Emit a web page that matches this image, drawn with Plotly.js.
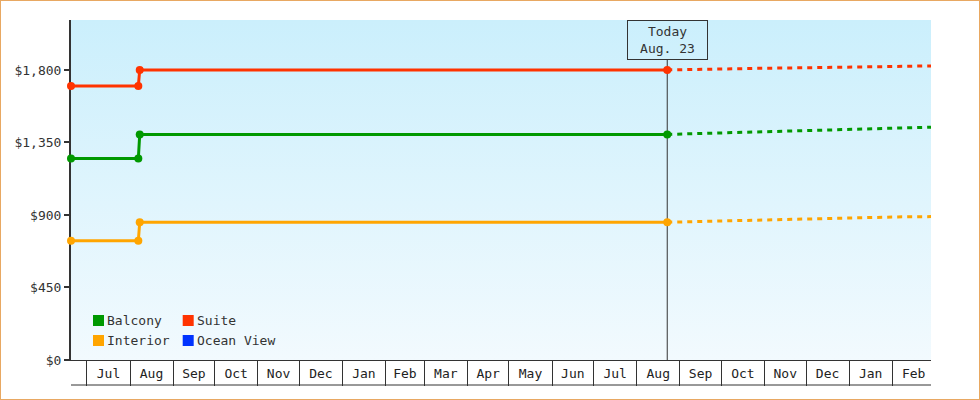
<!DOCTYPE html>
<html>
<head>
<meta charset="utf-8">
<script src="https://cdn.plot.ly/plotly-3.0.1.min.js"></script>
<style>
  html, body { margin: 0; padding: 0; background: #fff; }
  #wrap { position: relative; width: 980px; height: 400px; }
  #chart { width: 980px; height: 400px; }
  #frame { position: absolute; left: 0; top: 0; width: 980px; height: 400px;
           box-sizing: border-box; border: 1px solid #e8a862; pointer-events: none; }
</style>
</head>
<body>
<div id="wrap"><div id="chart"></div><div id="frame"></div></div>
<script>
// room categories, in legend order
const roomTypes = ['Balcony', 'Suite', 'Interior', 'Ocean View'];

// recorded prices (solid, with markers)
const historyDates = ['2022-06-19 12:00', '2022-08-07', '2022-08-08', '2023-08-23'];
const balconyHistory = [1250, 1250, 1400, 1400];
const suiteHistory = [1700, 1700, 1800, 1800];
const interiorHistory = [740, 740, 855, 855];
const oceanViewHistory = [];

// projected prices (dashed)
const projectionDates = ['2023-08-23', '2023-09-15', '2023-10-28', '2023-11-25', '2024-02-05', '2024-02-29'];
const balconyProjection = [1400, 1405, 1415, 1425, 1440, 1445];
const suiteProjection = [1800, 1805, 1810, 1813, 1823, 1825];
const interiorProjection = [855, 860, 868, 875, 888, 890];

const yTicks = [0, 450, 900, 1350, 1800];
const today = '2023-08-23';
const todayLabel = 'Today<br>Aug. 23';
const xRange = ['2022-06-19 12:00', '2024-02-29'];
const yRange = [0, 2110];

const colors = {
    'Balcony': '#009900',
    'Suite': '#ff3300',
    'Interior': '#ffa500',
    'Ocean View': '#0033ff'
};

const FONT = '"DejaVu Sans Mono", "Liberation Mono", monospace';
const M = {l: 71, r: 49, t: 20, b: 40};
const W = 980 - M.l - M.r, H = 400 - M.t - M.b;
const px = (v) => (v - M.l) / W;   // pixel x -> paper
const py = (v) => (M.t + H - v) / H; // pixel y -> paper

const history = {'Balcony': balconyHistory, 'Suite': suiteHistory, 'Interior': interiorHistory, 'Ocean View': oceanViewHistory};
const projection = {'Balcony': balconyProjection, 'Suite': suiteProjection, 'Interior': interiorProjection};

let data = [];
for (let name of roomTypes) {
    if (projection[name]) {
        data.push({
            x: projectionDates, y: projection[name], name: name,
            type: 'scatter', mode: 'lines', hoverinfo: 'skip',
            line: {color: colors[name], width: 3, dash: '5px,5px'}
        });
    }
    if (history[name].length) {
        data.push({
            x: historyDates, y: history[name], name: name,
            type: 'scatter', mode: 'lines+markers', cliponaxis: false,
            line: {color: colors[name], width: 3},
            marker: {color: colors[name], size: 8}
        });
    }
}

// plot background gradient
const grad = "<svg xmlns='http://www.w3.org/2000/svg' width='860' height='340' preserveAspectRatio='none'>" +
    "<defs><linearGradient id='g' x1='0' y1='0' x2='0' y2='1'>" +
    "<stop offset='0' stop-color='#cbeffc'/><stop offset='1' stop-color='#f2fafe'/>" +
    "</linearGradient></defs><rect width='860' height='340' fill='url(#g)'/></svg>";

let shapes = [
    {type: 'line', xref: 'x', yref: 'paper', x0: today, x1: today, y0: 0, y1: py(60),
     layer: 'below', line: {color: '#333', width: 1}},
    {type: 'line', xref: 'paper', yref: 'paper', x0: 0, x1: 1, y0: py(385), y1: py(385),
     line: {color: '#333', width: 1}}
];
let annotations = [
    {x: today, xref: 'x', y: 1, yref: 'paper', xanchor: 'center', yanchor: 'top',
     text: todayLabel, showarrow: false, align: 'center',
     width: 77, height: 36, borderpad: 1, borderwidth: 1, bordercolor: '#333',
     font: {family: FONT, size: 13, color: '#333'}}
];

// legend: two columns, squares + labels
const legendCols = [93, 182.7], legendRows = [315, 335];
roomTypes.forEach((name, i) => {
    let cx = legendCols[i % 2], cy = legendRows[Math.floor(i / 2)];
    shapes.push({type: 'rect', xref: 'paper', yref: 'paper', layer: 'above',
        x0: px(cx), x1: px(cx + 11), y0: py(cy + 11), y1: py(cy),
        fillcolor: colors[name], line: {width: 0}});
    annotations.push({xref: 'paper', yref: 'paper', x: px(cx + 12), y: py(cy + 5.5),
        xanchor: 'left', yanchor: 'middle', text: name, showarrow: false,
        font: {family: FONT, size: 13, color: '#333'}});
});

const layout = {
    width: 980, height: 400,
    margin: M,
    paper_bgcolor: '#fff',
    plot_bgcolor: 'rgba(0,0,0,0)',
    font: {family: FONT, size: 13, color: '#333'},
    showlegend: false,
    xaxis: {
        type: 'date', range: xRange, showgrid: false, zeroline: false,
        showline: true, linecolor: '#333', linewidth: 1, layer: 'below traces',
        ticks: 'outside', ticklen: 25, tickwidth: 1, tickcolor: '#333',
        tick0: '2022-07-01', dtick: 'M1', tickformat: '%b', ticklabelmode: 'period',
        ticklabelstandoff: -24, tickfont: {family: FONT, size: 13, color: '#222'}
    },
    yaxis: {
        range: yRange, tickvals: yTicks, tickformat: '$,.0f',
        showgrid: false, zeroline: false,
        showline: true, linecolor: '#333', linewidth: 2, layer: 'below traces',
        ticks: 'outside', ticklen: 5, tickwidth: 2, tickcolor: '#333',
        tickfont: {family: FONT, size: 13, color: '#333'}
    },
    images: [{
        source: 'data:image/svg+xml;charset=utf-8,' + encodeURIComponent(grad),
        xref: 'paper', yref: 'paper', x: 0, y: 1, sizex: 1, sizey: 1,
        sizing: 'stretch', xanchor: 'left', yanchor: 'top', layer: 'below'
    }],
    shapes: shapes,
    annotations: annotations
};

Plotly.newPlot('chart', data, layout, {displayModeBar: false, staticPlot: true});
</script>
</body>
</html>
